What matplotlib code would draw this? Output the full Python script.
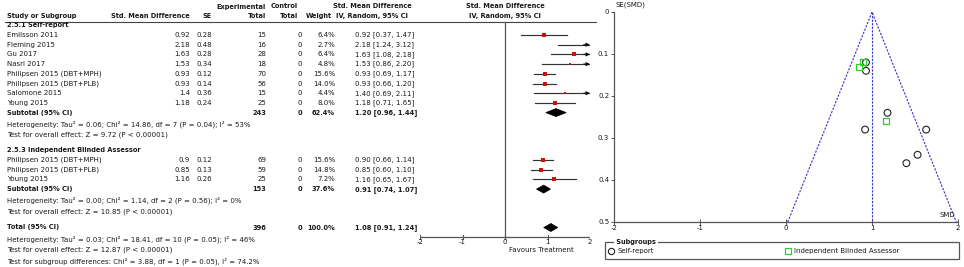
import matplotlib
matplotlib.use("Agg")
import matplotlib.pyplot as plt
from matplotlib.patches import Polygon, Rectangle

# ---------------- data ----------------
sr_studies = ["Emilsson 2011", "Fleming 2015", "Gu 2017", "Nasri 2017",
              "Philipsen 2015 (DBT+MPH)", "Philipsen 2015 (DBT+PLB)",
              "Salomone 2015", "Young 2015"]
sr_smd = [0.92, 2.18, 1.63, 1.53, 0.93, 0.93, 1.40, 1.18]
sr_smd_txt = ["0.92", "2.18", "1.63", "1.53", "0.93", "0.93", "1.4", "1.18"]
sr_se = [0.28, 0.48, 0.28, 0.34, 0.12, 0.14, 0.36, 0.24]
sr_n = [15, 16, 28, 18, 70, 56, 15, 25]
sr_w = [6.4, 2.7, 6.4, 4.8, 15.6, 14.0, 4.4, 8.0]
sr_lo = [0.37, 1.24, 1.08, 0.86, 0.69, 0.66, 0.69, 0.71]
sr_hi = [1.47, 3.12, 2.18, 2.20, 1.17, 1.20, 2.11, 1.65]

iba_studies = ["Philipsen 2015 (DBT+MPH)", "Philipsen 2015 (DBT+PLB)", "Young 2015"]
iba_smd = [0.90, 0.85, 1.16]
iba_smd_txt = ["0.9", "0.85", "1.16"]
iba_se = [0.12, 0.13, 0.26]
iba_n = [69, 59, 25]
iba_w = [15.6, 14.8, 7.2]
iba_lo = [0.66, 0.60, 0.65]
iba_hi = [1.14, 1.10, 1.67]

sub_sr = (1.20, 0.96, 1.44, 243, 62.4)
sub_iba = (0.91, 0.74, 1.07, 153, 37.6)
total = (1.08, 0.91, 1.24, 396, 100.0)

funnel_center = 1.0
forest_ticks = [-2, -1, 0, 1, 2]
funnel_xticks = [-2, -1, 0, 1, 2]
funnel_yticks = [0, 0.1, 0.2, 0.3, 0.4, 0.5]

# ---------------- figure ----------------
W, H = 964, 267
fig = plt.figure(figsize=(W / 100, H / 100), dpi=100)
plt.rcParams['font.family'] = ['DejaVu Sans']
FS = 5.0
FSB = 4.75
TXT = '#1a1a1a'

base = fig.add_axes([0, 0, 1, 1])
base.set_xlim(0, W)
base.set_ylim(H, 0)
base.axis('off')


def txt(x, y, s, ha='left', bold=False, **kw):
    base.text(x, y, s, ha=ha, va='center', fontsize=FSB if bold else FS,
              fontweight='bold' if bold else 'normal', color=TXT, **kw)


# column positions (pixels)
X_NAME = 7
X_SMD = 190
X_SE = 212
X_EXP = 266
X_CTL = 302
X_W = 335
X_CI = 355
X_CIH = 372

# header
txt(X_EXP, 6.5, "Experimental", ha='right', bold=True)
txt(X_CTL - 4, 6.5, "Control", ha='right', bold=True)
txt(X_NAME, 16, "Study or Subgroup", bold=True)
txt(X_SMD, 16, "Std. Mean Difference", ha='right', bold=True)
txt(X_SE, 16, "SE", ha='right', bold=True)
txt(X_EXP, 16, "Total", ha='right', bold=True)
txt(X_CTL - 4, 16, "Total", ha='right', bold=True)
txt(X_W - 3, 16, "Weight", ha='right', bold=True)
txt(X_CIH, 6.5, "Std. Mean Difference", ha='center', bold=True)
txt(X_CIH, 16, "IV, Random, 95% CI", ha='center', bold=True)
txt(505, 6.5, "Std. Mean Difference", ha='center', bold=True)
txt(505, 16, "IV, Random, 95% CI", ha='center', bold=True)
base.plot([5, 596], [21.5, 21.5], color='#444444', lw=0.8)

ROW = 9.7
y_sr0 = 35.0
y_sr = [y_sr0 + i * ROW for i in range(len(sr_studies))]
y_sub_sr = y_sr[-1] + ROW
y_iba_head = 150.0
y_iba = [160.0 + i * ROW for i in range(len(iba_studies))]
y_sub_iba = y_iba[-1] + ROW
y_total = 227.5

txt(X_NAME, 25.5, "2.5.1 Self-report", bold=True)


def study_rows(names, smd_txt, se, n, w, smd, lo, hi, ys):
    for i, y in enumerate(ys):
        txt(X_NAME, y, names[i])
        txt(X_SMD, y, smd_txt[i], ha='right')
        txt(X_SE, y, f"{se[i]:.2f}", ha='right')
        txt(X_EXP, y, f"{n[i]}", ha='right')
        txt(X_CTL, y, "0", ha='right')
        txt(X_W, y, f"{w[i]:.1f}%", ha='right')
        txt(X_CI, y, f"{smd[i]:.2f} [{lo[i]:.2f}, {hi[i]:.2f}]")


def sub_row(y, label, s):
    est, lo, hi, n, w = s
    txt(X_NAME, y, label, bold=True)
    txt(X_EXP, y, f"{n}", ha='right', bold=True)
    txt(X_CTL, y, "0", ha='right', bold=True)
    txt(X_W, y, f"{w:.1f}%", ha='right', bold=True)
    txt(X_CI, y, f"{est:.2f} [{lo:.2f}, {hi:.2f}]", bold=True)


study_rows(sr_studies, sr_smd_txt, sr_se, sr_n, sr_w, sr_smd, sr_lo, sr_hi, y_sr)
sub_row(y_sub_sr, "Subtotal (95% CI)", sub_sr)
txt(X_NAME, y_sub_sr + 11.5, "Heterogeneity: Tau\u00b2 = 0.06; Chi\u00b2 = 14.86, df = 7 (P = 0.04); I\u00b2 = 53%")
txt(X_NAME, y_sub_sr + 22.5, "Test for overall effect: Z = 9.72 (P < 0.00001)")

txt(X_NAME, y_iba_head, "2.5.3 Independent Blinded Assessor", bold=True)
study_rows(iba_studies, iba_smd_txt, iba_se, iba_n, iba_w, iba_smd, iba_lo, iba_hi, y_iba)
sub_row(y_sub_iba, "Subtotal (95% CI)", sub_iba)
txt(X_NAME, y_sub_iba + 11.5, "Heterogeneity: Tau\u00b2 = 0.00; Chi\u00b2 = 1.14, df = 2 (P = 0.56); I\u00b2 = 0%")
txt(X_NAME, y_sub_iba + 22.5, "Test for overall effect: Z = 10.85 (P < 0.00001)")

sub_row(y_total, "Total (95% CI)", total)
txt(X_NAME, y_total + 11.5, "Heterogeneity: Tau\u00b2 = 0.03; Chi\u00b2 = 18.41, df = 10 (P = 0.05); I\u00b2 = 46%")
txt(X_NAME, y_total + 22.5, "Test for overall effect: Z = 12.87 (P < 0.00001)")
txt(X_NAME, y_total + 33.5, "Test for subgroup differences: Chi\u00b2 = 3.88, df = 1 (P = 0.05), I\u00b2 = 74.2%")

# ---------------- forest axes ----------------
fx0, fx1 = 420, 590
fax = fig.add_axes([fx0 / W, 0, (fx1 - fx0) / W, 1])
fax.set_xlim(-2, 2)
fax.set_ylim(H, 0)
fax.patch.set_alpha(0)
for sp in fax.spines.values():
    sp.set_visible(False)
fax.set_yticks([])
fax.set_xticks([])
fax.plot([0, 0], [21.5, 237], color='#555555', lw=0.9)
axis_y = 237
fax.plot([-2, 2], [axis_y, axis_y], color='#555555', lw=0.9)
for t in forest_ticks:
    fax.plot([t, t], [axis_y - 2.5, axis_y + 1.5], color='#555555', lw=0.8)
    fax.text(t, axis_y + 5.5, f"{t}", ha='center', va='center', fontsize=FS, color=TXT)
fax.text(0.85, 250, "Favours Treatment", ha='center', va='center', fontsize=FS, color=TXT)


def forest_study(smd, lo, hi, w, ys):
    for i, y in enumerate(ys):
        h = min(hi[i], 2.0)
        l = max(lo[i], -2.0)
        fax.plot([l, h], [y, y], color='#333333', lw=0.85, zorder=2)
        if hi[i] > 2.0:
            fax.annotate("", xy=(2.0, y), xytext=(1.85, y),
                         arrowprops=dict(arrowstyle='-|>', color='#111111', lw=0.8,
                                         mutation_scale=5, shrinkA=0, shrinkB=0))
        ms = 1.0 + 2.0 * (w[i] / 15.6) ** 0.5
        fax.plot([smd[i]], [y], marker='s', ms=ms, mfc='#d01010', mec='#d01010',
                 mew=0, zorder=3)


def diamond(s, y, hh=4.0):
    est, lo, hi = s[0], s[1], s[2]
    fax.add_patch(Polygon([(lo, y), (est, y - hh), (hi, y), (est, y + hh)],
                          closed=True, fc='black', ec='black', lw=0.5, zorder=3))


forest_study(sr_smd, sr_lo, sr_hi, sr_w, y_sr)
diamond(sub_sr, y_sub_sr)
forest_study(iba_smd, iba_lo, iba_hi, iba_w, y_iba)
diamond(sub_iba, y_sub_iba)
diamond(total, y_total)

# ---------------- funnel axes ----------------
ux0, ux1 = 614, 958
uy0, uy1 = 12, 222
uax = fig.add_axes([ux0 / W, 1 - uy1 / H, (ux1 - ux0) / W, (uy1 - uy0) / H])
uax.patch.set_alpha(0)
uax.set_xlim(-2, 2)
uax.set_ylim(0.5, 0)
uax.spines['top'].set_visible(False)
uax.spines['right'].set_visible(False)
for sp in ['left', 'bottom']:
    uax.spines[sp].set_color('#555555')
    uax.spines[sp].set_linewidth(0.9)
uax.set_xticks(funnel_xticks)
uax.set_xticklabels([f"{t}" for t in funnel_xticks])
uax.set_yticks(funnel_yticks)
uax.set_yticklabels(["0", "0.1", "0.2", "0.3", "0.4", "0.5"])
uax.tick_params(axis='x', direction='inout', length=4, width=0.7, color='#555555',
                labelsize=FS, pad=0.5, labelcolor=TXT)
uax.tick_params(axis='y', direction='out', length=2.5, width=0.7, color='#555555',
                labelsize=FS, pad=1, labelcolor=TXT)

blue = '#3535c8'
uax.plot([funnel_center - 1.96 * 0.5, funnel_center, funnel_center + 1.96 * 0.5],
         [0.5, 0, 0.5], color=blue, lw=0.8, ls=(0, (2, 1.2)))
uax.plot([funnel_center, funnel_center], [0, 0.5], color=blue, lw=0.8, ls=(0, (2, 1.2)))

uax.scatter(sr_smd, sr_se, s=24, facecolors='none', edgecolors='#222222',
            linewidths=0.8, zorder=3, clip_on=True)
uax.scatter(iba_smd, iba_se, s=18, marker='s', facecolors='none',
            edgecolors='#33cc33', linewidths=0.9, zorder=4)
uax.text(-1.98, -0.01, "SE(SMD)", ha='left', va='bottom', fontsize=FS, color=TXT,
         clip_on=False)
uax.text(1.97, 0.49, "SMD", ha='right', va='bottom', fontsize=FS, color=TXT)

# legend box
base.add_patch(Rectangle((605, 242), 354, 17, fill=False, ec='#555555', lw=0.9))
base.text(614, 242, " Subgroups ", ha='left', va='center', fontsize=FSB,
          fontweight='bold', color=TXT,
          bbox=dict(fc='white', ec='none', pad=0.2))
base.plot([611], [251], marker='o', ms=4.5, mfc='none', mec='#222222', mew=0.8)
txt(617, 251, "Self-report")
base.plot([788], [251], marker='s', ms=4, mfc='none', mec='#33cc33', mew=0.9)
txt(794, 251, "Independent Blinded Assessor")

fig.savefig("out.png", dpi=100)
